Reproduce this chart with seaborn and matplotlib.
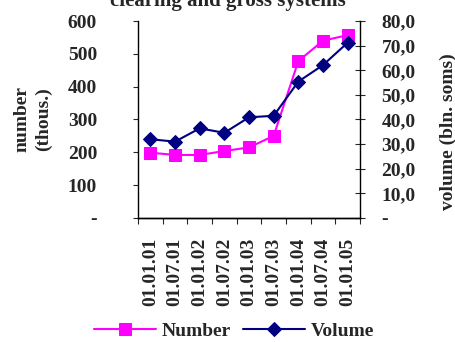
import numpy as np
import pandas as pd
import matplotlib
matplotlib.use("Agg")
import matplotlib.pyplot as plt
import matplotlib.ticker as mticker
import seaborn as sns

# data
dates = ["01.01.01", "01.07.01", "01.01.02", "01.07.02", "01.01.03",
         "01.07.03", "01.01.04", "01.07.04", "01.01.05"]
number = [199, 192, 192, 204, 215, 250, 478, 540, 557]
volume = [32.0, 31.0, 36.4, 34.6, 40.9, 41.5, 55.4, 62.1, 71.2]

sns.set_style("white")
plt.rcParams["font.family"] = ["Liberation Serif", "DejaVu Serif"]
plt.rcParams["font.weight"] = "bold"

df = pd.DataFrame({"date": dates, "number": number, "volume": volume})
df["pos"] = np.arange(len(dates))

fig = plt.figure(figsize=(4.56, 3.42), dpi=100)
ax = fig.add_axes([138 / 456, 1 - 218 / 342, 222 / 456, 197 / 342])
ax2 = ax.twinx()

fs = 14
sns.lineplot(data=df, x="pos", y="number", ax=ax, color="#FF00FF",
             marker="s", markersize=8, markeredgecolor="#FF00FF",
             linewidth=1.5, label="Number", legend=False)
sns.lineplot(data=df, x="pos", y="volume", ax=ax2, color="#000080",
             marker="D", markersize=7, markeredgecolor="#000080",
             linewidth=1.5, label="Volume", legend=False)

ax.set_xlim(-0.5, len(dates) - 0.5)
ax.set_ylim(0, 600)
ax2.set_ylim(0, 80)
ax.set_xticks(np.arange(len(dates) + 1) - 0.5)
ax.set_xticklabels([])
ax.set_xticks(np.arange(len(dates)), minor=True)
ax.set_xticklabels(dates, minor=True, rotation=90, fontsize=fs, fontweight="bold")
ax.tick_params(axis="x", which="major", length=4, direction="out", bottom=True)
ax.tick_params(axis="x", which="minor", length=0, pad=14)

ax.set_yticks(np.arange(0, 601, 100))
ax.yaxis.set_major_formatter(mticker.FuncFormatter(lambda v, p: "-" if v == 0 else f"{v:.0f}"))
ax.tick_params(axis="y", length=3.5, direction="out", left=True, labelsize=fs, pad=26)
ax2.set_yticks(np.arange(0, 81, 10))
ax2.yaxis.set_major_formatter(mticker.FuncFormatter(lambda v, p: "-" if v == 0 else f"{v:.1f}".replace(".", ",")))
ax2.tick_params(axis="y", length=7, direction="inout", right=True, labelsize=fs, pad=12)
for a in (ax, ax2):
    for lbl in a.get_yticklabels():
        lbl.set_fontweight("bold")

for a in (ax, ax2):
    a.spines["top"].set_visible(False)
    for s in ["left", "right", "bottom"]:
        a.spines[s].set_color("black")
        a.spines[s].set_linewidth(1.0)
ax2.spines["left"].set_visible(False)
ax.spines["right"].set_visible(False)

ax.set_xlabel("")
ax.set_ylabel("number\n(thous.)", fontsize=fs, fontweight="bold", linespacing=1.35)
ax.yaxis.set_label_coords(-0.387, 0.5)
ax2.set_ylabel("volume (bln. soms)", fontsize=fs, fontweight="bold")
ax2.yaxis.set_label_coords(1.36, 0.44)

fig.text(0.5, 1 - 6 / 342, "clearing and gross systems", ha="center", va="baseline",
         fontsize=15, fontweight="bold")

h1, l1 = ax.get_legend_handles_labels()
h2, l2 = ax2.get_legend_handles_labels()
fig.legend(h1 + h2, l1 + l2, loc="center", bbox_to_anchor=(234 / 456, 1 - 331 / 342),
           ncol=2, frameon=False, prop={"weight": "bold", "size": fs},
           handlelength=3.2, columnspacing=0.6, handletextpad=0.3,
           borderpad=0.1)

fig.savefig("out.png", dpi=100)
